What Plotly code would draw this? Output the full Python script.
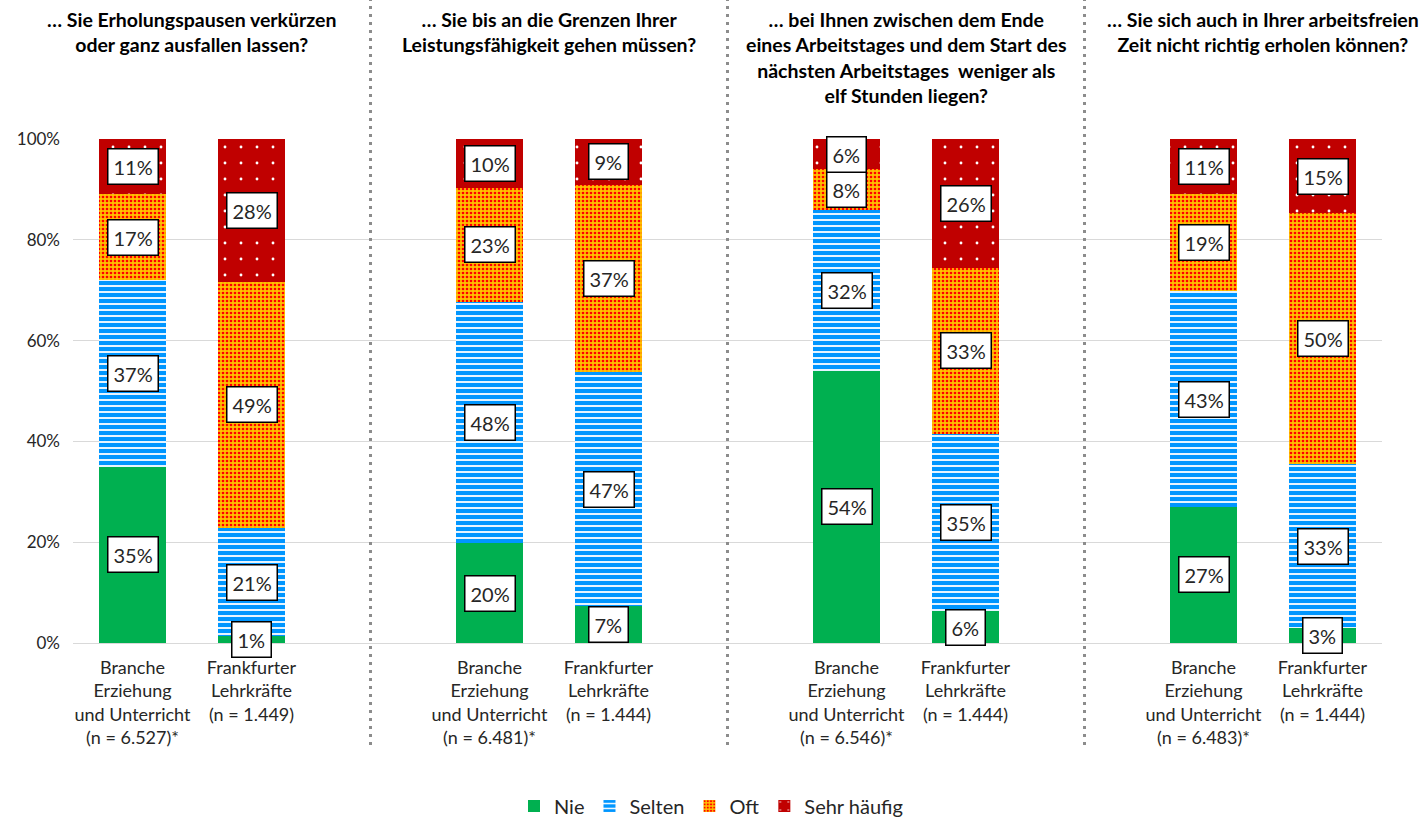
import plotly.graph_objects as go

# ---- data ----
questions = [
    "… Sie Erholungspausen verkürzen<br>oder ganz ausfallen lassen?",
    "… Sie bis an die Grenzen Ihrer<br>Leistungsfähigkeit gehen müssen?",
    "… bei Ihnen zwischen dem Ende<br>eines Arbeitstages und dem Start des<br>nächsten Arbeitstages  weniger als<br>elf Stunden liegen?",
    "… Sie sich auch in Ihrer arbeitsfreien<br>Zeit nicht richtig erholen können?",
]
bar_labels = [
    "Branche<br>Erziehung<br>und Unterricht<br>(n = 6.527)*", "Frankfurter<br>Lehrkräfte<br>(n = 1.449)",
    "Branche<br>Erziehung<br>und Unterricht<br>(n = 6.481)*", "Frankfurter<br>Lehrkräfte<br>(n = 1.444)",
    "Branche<br>Erziehung<br>und Unterricht<br>(n = 6.546)*", "Frankfurter<br>Lehrkräfte<br>(n = 1.444)",
    "Branche<br>Erziehung<br>und Unterricht<br>(n = 6.483)*", "Frankfurter<br>Lehrkräfte<br>(n = 1.444)",
]
y_ticks = [0, 20, 40, 60, 80, 100]
y_tick_labels = ["0%", "20%", "40%", "60%", "80%", "100%"]

# category slots (blank slots between groups hold the separators)
bar_slots = [0, 1, 3, 4, 6, 7, 9, 10]
separator_slots = [2, 5, 8]
group_centers = [0.5, 3.5, 6.5, 9.5]

nie = [35.0, 1.4, 19.8, 7.3, 54.0, 6.3, 27.0, 2.9]
selten = [37.0, 21.4, 47.9, 46.5, 32.0, 35.2, 42.8, 32.6]
oft = [17.0, 48.9, 22.6, 37.1, 8.0, 32.9, 19.2, 49.8]
sehr = [11.0, 28.3, 9.7, 9.1, 6.0, 25.6, 11.0, 14.7]

nie_lbl = [35, 1, 20, 7, 54, 6, 27, 3]
selten_lbl = [37, 21, 48, 47, 32, 35, 43, 33]
oft_lbl = [17, 49, 23, 37, 8, 33, 19, 50]
sehr_lbl = [11, 28, 10, 9, 6, 26, 11, 15]

series = [
    ("Nie", nie, nie_lbl, dict(bg="#00B050", fg="#00B050", shape="", size=8, solidity=0.3)),
    ("Selten", selten, selten_lbl, dict(bg="#0096FF", fg="#FFFFFF", shape="-", size=6, solidity=0.3)),
    ("Oft", oft, oft_lbl, dict(bg="#FFC000", fg="#FF0000", shape=".", size=4, solidity=0.35)),
    ("Sehr häufig", sehr, sehr_lbl, dict(bg="#C00000", fg="#FFFFFF", shape=".", size=16, solidity=0.025)),
]

FONT = "Lato"
TXT = "#262626"
PLOT_TOP, PLOT_BOTTOM = 139, 643
PLOT_H = PLOT_BOTTOM - PLOT_TOP


def px_to_paper(py):
    return (PLOT_BOTTOM - py) / PLOT_H


fig = go.Figure()
for name, vals, _, st in series:
    fig.add_trace(go.Bar(
        name=name, x=bar_slots, y=vals, width=0.57,
        marker=dict(
            color=st["bg"], line=dict(width=0),
            pattern=dict(shape=st["shape"], fgcolor=st["fg"], bgcolor=st["bg"],
                         size=st["size"], solidity=st["solidity"], fillmode="replace"),
        ),
        hoverinfo="skip",
    ))

annotations = []
# value labels in white boxes
for i, slot in enumerate(bar_slots):
    base = 0.0
    for name, vals, lbls, _ in series:
        v = vals[i]
        annotations.append(dict(
            x=slot, y=base + v / 2, xref="x", yref="y", text=f"{lbls[i]}%",
            showarrow=False, bgcolor="white", bordercolor="#000000", borderwidth=1.5,
            borderpad=5, font=dict(family=FONT, size=20, color=TXT),
        ))
        base += v

# group titles
for q, c in zip(questions, group_centers):
    annotations.append(dict(
        x=c, y=px_to_paper(6), xref="x", yref="paper", yanchor="top",
        text=f"<b>{q}</b>", showarrow=False, align="center",
        font=dict(family=FONT, size=19.5, color="#000000"),
    ))

shapes = []
for s in separator_slots:
    shapes.append(dict(
        type="line", xref="x", yref="paper", x0=s, x1=s,
        y0=px_to_paper(745), y1=px_to_paper(0),
        line=dict(color="#8C8C8C", width=3, dash="3px,5px"),
    ))

fig.update_layout(
    barmode="stack",
    width=1422, height=817,
    margin=dict(l=73, r=40, t=PLOT_TOP, b=817 - PLOT_BOTTOM, autoexpand=False),
    paper_bgcolor="white", plot_bgcolor="white",
    font=dict(family=FONT, size=16, color=TXT),
    bargap=0,
    xaxis=dict(
        range=[-0.5, 10.5], tickmode="array", tickvals=bar_slots, ticktext=bar_labels,
        showgrid=False, zeroline=False, showline=False, ticks="", automargin=False,
        ticklabelstandoff=12,
        tickfont=dict(family=FONT, size=18, color=TXT),
    ),
    yaxis=dict(
        range=[0, 100], tickmode="array", tickvals=y_ticks, ticktext=y_tick_labels,
        showgrid=True, gridcolor="#D9D9D9", gridwidth=1,
        zeroline=True, zerolinecolor="#D9D9D9", zerolinewidth=1,
        showline=False, ticks="", ticklabelstandoff=12, automargin=False,
        tickfont=dict(family=FONT, size=17, color=TXT),
    ),
    legend=dict(
        orientation="h", x=0.5, xanchor="center", xref="container",
        y=1 - 806 / 817, yanchor="middle", yref="container",
        font=dict(family=FONT, size=20, color=TXT), traceorder="normal",
        itemwidth=30,
    ),
    annotations=annotations,
    shapes=shapes,
)

fig.write_html("out.html", config={"displayModeBar": False},
               post_script="document.body.style.margin='0';")
